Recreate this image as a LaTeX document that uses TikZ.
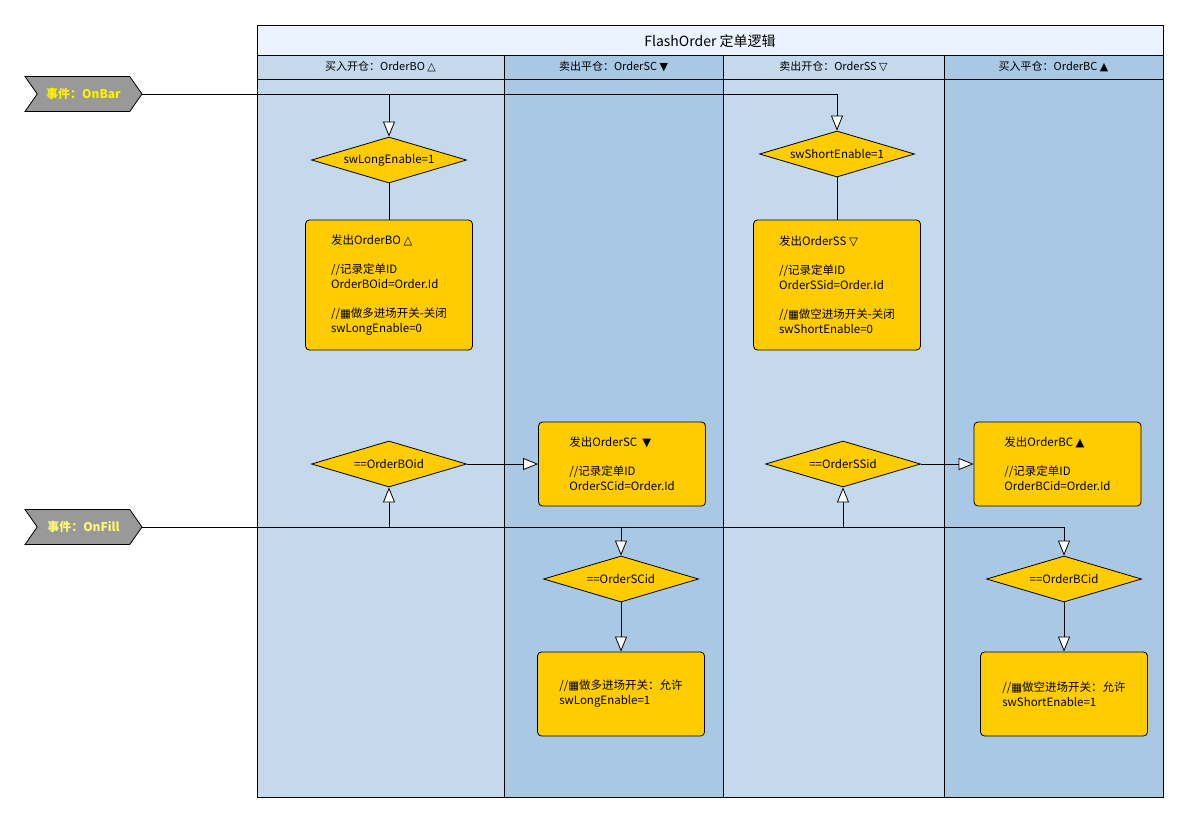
\documentclass[tikz,border=0pt]{standalone}
\usepackage{fontspec}
\setmainfont{Noto Sans CJK SC}
\newfontfamily\symfont{DejaVu Sans}
\usetikzlibrary{shapes.geometric,shapes.symbols,arrows.meta}
\definecolor{laneA}{HTML}{C5D9ED}
\definecolor{laneB}{HTML}{A9C8E3}
\definecolor{titlebg}{HTML}{EAF3FE}
\definecolor{gold}{HTML}{FFCC00}
\definecolor{evgray}{HTML}{999999}
\tikzset{
  decision/.style={diamond, draw, fill=gold, aspect=3.4, inner sep=0pt, minimum width=155pt, minimum height=46pt, font=\fontsize{11.5}{13}\selectfont},
  action/.style={draw, fill=gold, rounded corners=4pt, minimum width=167pt, align=left, font=\fontsize{11.5}{15}\selectfont},
  event/.style={signal, signal from=west, signal to=east, signal pointer angle=110, draw, fill=evgray, minimum width=117pt, minimum height=35pt, font=\bfseries\fontsize{12}{14}\selectfont},
  flow/.style={-{Triangle[fill=white,length=15pt,width=12pt]}},
  lanehead/.style={font=\fontsize{11}{12}\selectfont}
}
\begin{document}
\begin{tikzpicture}[x=1pt, y=-1pt, line width=0.8pt]
  \useasboundingbox (0,0) rectangle (1180,815);
  \fill[titlebg] (257,25) rectangle (1163,55);
  \fill[laneA] (257,55) rectangle (504,797);
  \fill[laneB] (504,55) rectangle (723,797);
  \fill[laneA] (723,55) rectangle (944,797);
  \fill[laneB] (944,55) rectangle (1163,797);
  \draw (257,25) rectangle (1163,797);
  \draw (257,55) -- (1163,55);
  \draw (257,79) -- (1163,79);
  \foreach \x in {504,723,944}
    \draw (\x,55) -- (\x,797);
  \node[font=\fontsize{14}{16}\selectfont] (title) at (710,41) {FlashOrder 定单逻辑};
  \node[lanehead] (headBO) at (380.5,67) {买入开仓：OrderBO {\symfont △}};
  \node[lanehead] (headSC) at (613.5,67) {卖出平仓：OrderSC {\symfont ▼}};
  \node[lanehead] (headSS) at (833.5,67) {卖出开仓：OrderSS {\symfont ▽}};
  \node[lanehead] (headBC) at (1053.5,67) {买入平仓：OrderBC {\symfont ▲}};

  \node[event, text=yellow] (onbar) at (83.5,94) {事件：OnBar};
  \node[event, text=yellow!55!white] (onfill) at (83.5,527) {事件：OnFill};

  \node[decision] (longOn) at (389,160) {swLongEnable=1};
  \node[decision] (shortOn) at (837,154) {swShortEnable=1};
  \node[decision] (boCheck) at (389,464) {==OrderBOid};
  \node[decision] (ssCheck) at (843,464) {==OrderSSid};
  \node[decision] (scCheck) at (621,579) {==OrderSCid};
  \node[decision] (bcCheck) at (1064,579) {==OrderBCid};

  \node[action, minimum height=130pt] (sendBO) at (389,285) {发出OrderBO {\symfont △}\\[14pt] //记录定单ID\\ OrderBOid=Order.Id\\[14pt] //{\symfont ▦}做多进场开关-关闭\\ swLongEnable=0};
  \node[action, minimum height=130pt] (sendSS) at (837,285) {发出OrderSS {\symfont ▽}\\[14pt] //记录定单ID\\ OrderSSid=Order.Id\\[14pt] //{\symfont ▦}做空进场开关-关闭\\ swShortEnable=0};
  \node[action, minimum height=84pt] (sendSC) at (622,464) {发出OrderSC \ {\symfont ▼}\\[14pt] //记录定单ID\\ OrderSCid=Order.Id};
  \node[action, minimum height=84pt] (sendBC) at (1057.5,464) {发出OrderBC {\symfont ▲}\\[14pt] //记录定单ID\\ OrderBCid=Order.Id};
  \node[action, minimum height=84pt] (longReset) at (621,694) {//{\symfont ▦}做多进场开关：允许\\ swLongEnable=1};
  \node[action, minimum height=84pt] (shortReset) at (1064,694) {//{\symfont ▦}做空进场开关：允许\\ swShortEnable=1};

  \draw[flow] (onbar.east) -- (shortOn.north |- onbar.east) -- (shortOn.north);
  \draw[flow] (longOn.north |- onbar.east) -- (longOn.north);
  \draw (longOn.south) -- (sendBO.north);
  \draw (shortOn.south) -- (sendSS.north);
  \draw[flow] (boCheck.east) -- (sendSC.west);
  \draw[flow] (ssCheck.east) -- (sendBC.west);
  \draw[flow] (onfill.east) -- (bcCheck.north |- onfill.east) -- (bcCheck.north);
  \draw[flow] (boCheck.south |- onfill.east) -- (boCheck.south);
  \draw[flow] (ssCheck.south |- onfill.east) -- (ssCheck.south);
  \draw[flow] (scCheck.north |- onfill.east) -- (scCheck.north);
  \draw[flow] (scCheck.south) -- (longReset.north);
  \draw[flow] (bcCheck.south) -- (shortReset.north);
\end{tikzpicture}
\end{document}
